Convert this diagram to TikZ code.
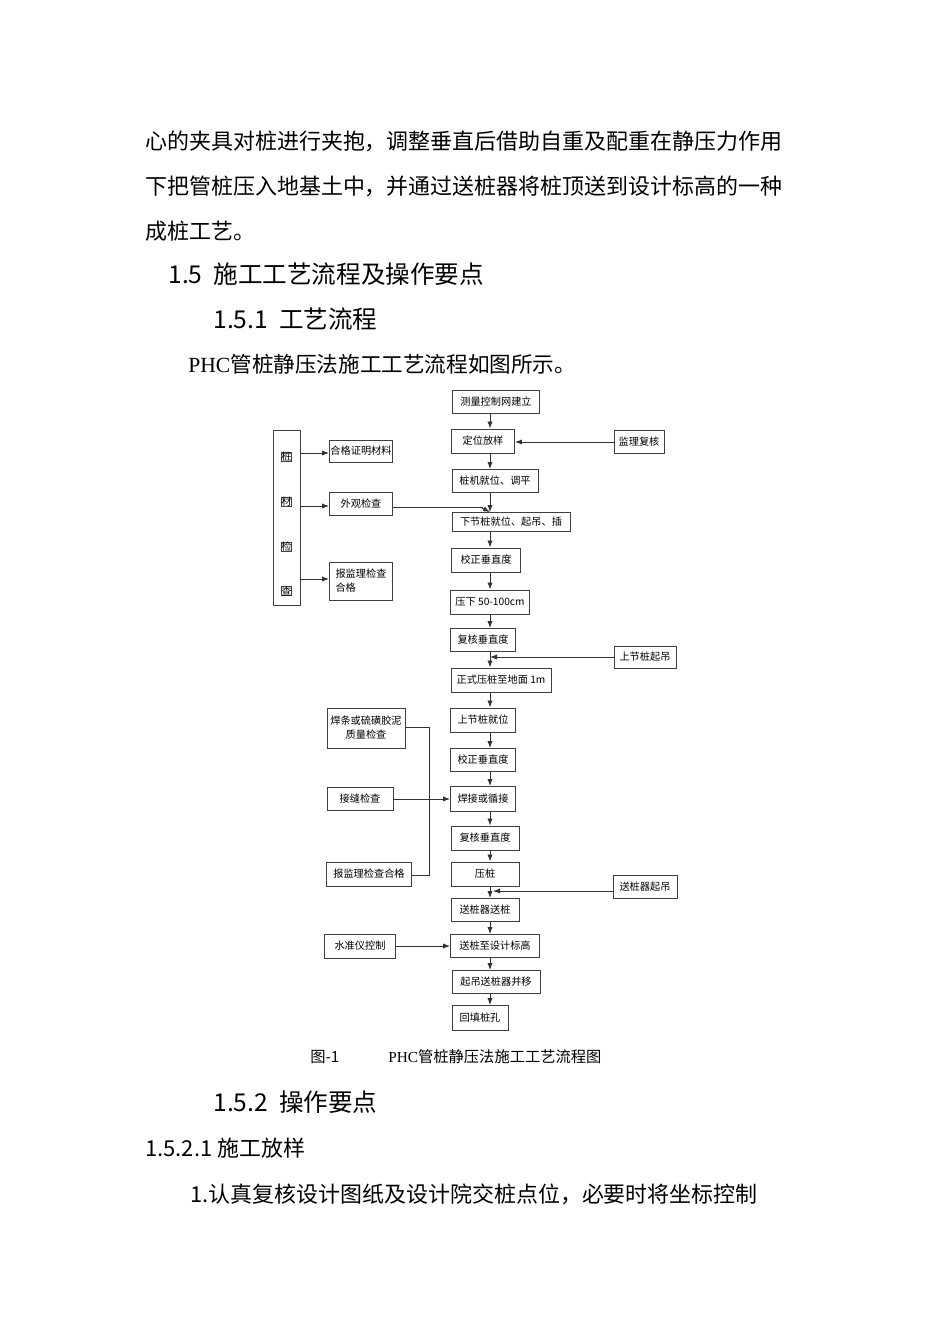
\documentclass[tikz,border=0pt]{standalone}
\usepackage{fontspec}
\setmainfont{Liberation Serif}
\newfontfamily\cjk{Noto Sans CJK SC}
\usetikzlibrary{arrows.meta}

\tikzset{
    box/.style={rectangle,draw=black!75,line width=0.5pt,inner sep=0pt,font=\cjk\fontsize{5.8}{8}\selectfont,align=center},
    flow/.style={-{Latex[length=4pt,width=3pt]},line width=0.5pt,black!80},
    line/.style={line width=0.5pt,black!80},
    body/.style={anchor=west,inner sep=0pt,font=\cjk\fontsize{12.5}{14}\selectfont},
    head/.style={anchor=west,inner sep=0pt,font=\cjk\fontsize{14}{16}\selectfont}
}

\begin{document}
\begin{tikzpicture}[x=0.02cm,y=-0.02cm]
        \useasboundingbox (0,0) rectangle (950,1344);
        % page text
        \node (t1) [body] at (145,141) {心的夹具对桩进行夹抱，调整垂直后借助自重及配重在静压力作用};
        \node (t2) [body] at (145,186) {下把管桩压入地基土中，并通过送桩器将桩顶送到设计标高的一种};
        \node (t3) [body] at (145,231) {成桩工艺。};
        \node (h1) [head] at (168,274) {1.5\ \ 施工工艺流程及操作要点};
        \node (h2) [head] at (213,319) {1.5.1\ \ 工艺流程};
        \node (t4) [anchor=west,inner sep=0pt,font=\fontsize{12.3}{14}\selectfont] at (188,364) {PHC{\cjk 管桩静压法施工工艺流程如图所示。}};
        \node (cap) [anchor=west,inner sep=0pt,font=\fontsize{8.7}{10}\selectfont] at (310,1057) {{\cjk 图-1}\hspace{3.2em}PHC{\cjk 管桩静压法施工工艺流程图}};
        \node (h3) [head] at (213,1102) {1.5.2\ \ 操作要点};
        \node (t5) [body] at (145,1148) {1.5.2.1 施工放样};
        \node (t6) [body] at (190,1194) {1.认真复核设计图纸及设计院交桩点位，必要时将坐标控制};

        % main column
        \begin{scope}[every node/.style={box}]
            \node (s1) [minimum width=1.74cm,minimum height=0.46cm] at (496,402) {测量控制网建立};
            \node (s2) [minimum width=1.26cm,minimum height=0.48cm] at (483,441) {定位放样};
            \node (s3) [minimum width=1.72cm,minimum height=0.46cm] at (495,481) {桩机就位、调平};
            \node (s4) [minimum width=2.36cm,minimum height=0.38cm] at (511,522) {下节桩就位、起吊、插};
            \node (s5) [minimum width=1.38cm,minimum height=0.48cm] at (486,560) {校正垂直度};
            \node (s6) [minimum width=1.58cm,minimum height=0.48cm] at (490,602) {压下 50-100cm};
            \node (s7) [minimum width=1.30cm,minimum height=0.46cm] at (483,640) {复核垂直度};
            \node (s8) [minimum width=2.00cm,minimum height=0.48cm] at (501,680) {正式压桩至地面 1m};
            \node (s9) [minimum width=1.30cm,minimum height=0.48cm] at (483,720) {上节桩就位};
            \node (s10) [minimum width=1.30cm,minimum height=0.46cm] at (483,760) {校正垂直度};
            \node (s11) [minimum width=1.30cm,minimum height=0.50cm] at (483,799) {焊接或循接};
            \node (s12) [minimum width=1.36cm,minimum height=0.48cm] at (485,838) {复核垂直度};
            \node (s13) [minimum width=1.36cm,minimum height=0.48cm] at (485,874) {压桩};
            \node (s14) [minimum width=1.36cm,minimum height=0.46cm] at (485,910) {送桩器送桩};
            \node (s15) [minimum width=1.78cm,minimum height=0.46cm] at (495,946) {送桩至设计标高};
            \node (s16) [minimum width=1.76cm,minimum height=0.46cm] at (496,982) {起吊送桩器并移};
            \node (s17) [minimum width=1.12cm,minimum height=0.50cm] at (480,1018) {回填桩孔};
        \end{scope}

        % side boxes
        \begin{scope}[every node/.style={box}]
            \node (jl) [minimum width=1.00cm,minimum height=0.46cm] at (639,442) {监理复核};
            \node (sq) [minimum width=1.24cm,minimum height=0.44cm] at (645,657) {上节桩起吊};
            \node (sd) [minimum width=1.28cm,minimum height=0.46cm] at (645,887) {送桩器起吊};
            \node (zc) [minimum width=0.54cm,minimum height=3.50cm] at (286.5,517.5) {};
            \node [anchor=center] at (286.5,457) {桩};
            \node [anchor=center] at (286.5,502) {材};
            \node [anchor=center] at (286.5,547) {检};
            \node [anchor=center] at (286.5,591) {查};
            \node (hg) [minimum width=1.26cm,minimum height=0.44cm] at (361,451) {合格证明材料};
            \node (wg) [minimum width=1.26cm,minimum height=0.46cm] at (361,504) {外观检查};
            \node (bj) [minimum width=1.26cm,minimum height=0.76cm,align=left] at (361,581) {报监理检查\\合格};
            \node (hc) [minimum width=1.56cm,minimum height=0.80cm] at (366,728) {焊条或硫磺胶泥\\质量检查};
            \node (jf) [minimum width=1.32cm,minimum height=0.46cm] at (360,799) {接缝检查};
            \node (bh) [minimum width=1.70cm,minimum height=0.48cm] at (369,874) {报监理检查合格};
            \node (sz) [minimum width=1.42cm,minimum height=0.48cm] at (360,946) {水准仪控制};
        \end{scope}

        % main axis
        \coordinate (ax) at (490,0);
        \foreach \a/\b in {s1/s2,s2/s3,s3/s4,s4/s5,s5/s6,s6/s7,s7/s8,s8/s9,s9/s10,s10/s11,s11/s12,s12/s13,s13/s14,s14/s15,s15/s16,s16/s17}
            \draw [flow] (\a.south -| ax) -- (\b.north -| ax);

        % side arrows
        \draw [flow] (jl.west) -- (s2.east |- jl.west);
        \coordinate (sqp) at (490,657);
        \draw [flow] (sq.west) -- (sqp);
        \coordinate (sdp) at (493,891);
        \draw [flow] (sd.west |- sdp) -- (sdp);
        \draw [flow] (zc.east |- 0,453) -- (hg.west |- 0,453);
        \draw [flow] (zc.east |- 0,506) -- (wg.west |- 0,506);
        \draw [flow] (zc.east |- 0,579) -- (bj.west |- 0,579);
        \coordinate (wgp) at (490,507);
        \draw [line] (wg.east |- wgp) -- ++(90,0);
        \draw [flow] (480,507) -- (s4.north -| ax);
        \draw [line] (hc.east |- 0,727) -- (429,727) -- (429,875) -- (bh.east |- 0,875);
        \draw [flow] (jf.east) -- (s11.west);
        \draw [flow] (sz.east) -- (s15.west);
\end{tikzpicture}
\end{document}
